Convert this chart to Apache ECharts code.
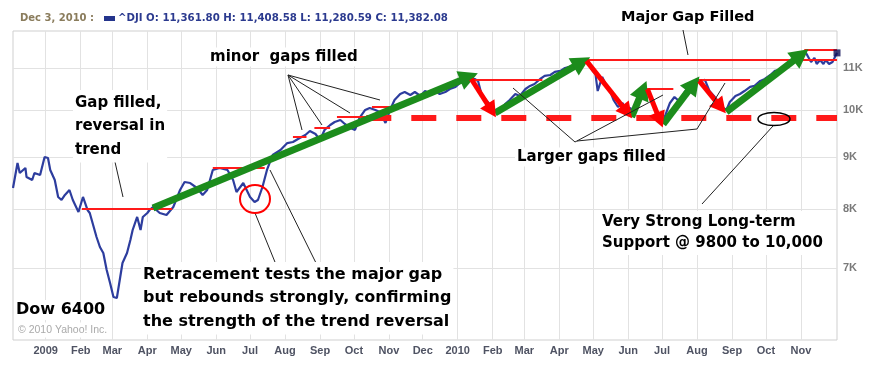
<!DOCTYPE html>
<html><head><meta charset="utf-8">
<script src="https://cdn.jsdelivr.net/npm/echarts@6/dist/echarts.min.js"></script>
<style>html,body{margin:0;padding:0;background:#fff}#c{width:870px;height:368px}</style>
</head><body><div id="c"></div>
<script>
// ---- Dow Jones (^DJI) weekly-ish closes ----
const dates = ['2008-12-03','2008-12-07','2008-12-09','2008-12-14','2008-12-15','2008-12-20','2008-12-22','2008-12-27','2008-12-31',
'2009-01-03','2009-01-05','2009-01-09','2009-01-12','2009-01-15','2009-01-18','2009-01-22','2009-01-25','2009-01-30',
'2009-02-03','2009-02-07','2009-02-09','2009-02-15','2009-02-18','2009-02-21','2009-02-24','2009-02-27',
'2009-03-02','2009-03-05','2009-03-08','2009-03-10','2009-03-14','2009-03-17','2009-03-19','2009-03-23','2009-03-26','2009-03-28',
'2009-04-01','2009-04-03','2009-04-06','2009-04-12','2009-04-18','2009-04-24','2009-04-30',
'2009-05-04','2009-05-09','2009-05-15','2009-05-20','2009-05-24','2009-05-29',
'2009-06-04','2009-06-11','2009-06-16','2009-06-19','2009-06-25',
'2009-07-01','2009-07-05','2009-07-08','2009-07-12','2009-07-16','2009-07-21','2009-07-28',
'2009-08-03','2009-08-08','2009-08-14','2009-08-19','2009-08-23','2009-08-28',
'2009-09-01','2009-09-05','2009-09-10','2009-09-14','2009-09-19','2009-09-23','2009-09-28',
'2009-10-02','2009-10-06','2009-10-11','2009-10-15','2009-10-20','2009-10-24','2009-10-29',
'2009-11-02','2009-11-06','2009-11-11','2009-11-15','2009-11-20','2009-11-24','2009-11-29',
'2009-12-03','2009-12-07','2009-12-12','2009-12-16','2009-12-21','2009-12-25','2009-12-30',
'2010-01-03','2010-01-07','2010-01-12','2010-01-16','2010-01-19','2010-01-22','2010-01-26','2010-01-30',
'2010-02-03','2010-02-07','2010-02-12','2010-02-16','2010-02-21','2010-02-25',
'2010-03-02','2010-03-06','2010-03-10','2010-03-15','2010-03-19','2010-03-24','2010-03-28',
'2010-04-02','2010-04-06','2010-04-10','2010-04-15','2010-04-19','2010-04-24','2010-04-26','2010-04-30',
'2010-05-03','2010-05-05','2010-05-09','2010-05-12','2010-05-16','2010-05-19','2010-05-23','2010-05-27','2010-05-30',
'2010-06-03','2010-06-06','2010-06-10','2010-06-13','2010-06-17','2010-06-20','2010-06-24','2010-06-27',
'2010-07-01','2010-07-04','2010-07-08','2010-07-12','2010-07-17','2010-07-21','2010-07-26','2010-07-30',
'2010-08-04','2010-08-08','2010-08-12','2010-08-16','2010-08-20','2010-08-23','2010-08-27','2010-08-30',
'2010-09-04','2010-09-08','2010-09-12','2010-09-17','2010-09-21','2010-09-26','2010-09-30',
'2010-10-05','2010-10-09','2010-10-13','2010-10-18','2010-10-22','2010-10-27','2010-10-31',
'2010-11-05','2010-11-07','2010-11-10','2010-11-13','2010-11-15','2010-11-18','2010-11-21','2010-11-23','2010-11-26','2010-11-29','2010-12-03'];
const values = [8387,8875,8677,8775,8598,8540,8677,8638,8996,
8976,8736,8540,8219,8163,8256,8349,8163,7945,
8219,7981,7927,7508,7340,7241,6968,6767,
6557,6542,6859,7080,7241,7458,7628,7856,7628,7856,
7927,7981,8035,7927,7891,8035,8349,
8501,8482,8387,8256,8349,8736,
8775,8736,8540,8312,8482,
8219,8127,8163,8406,8736,9036,9139,
9284,9306,9390,9455,9541,9476,
9348,9563,9671,9736,9781,9692,9605,
9563,9826,10005,10049,10005,9959,9714,
10005,10233,10372,10419,10349,10419,10325,
10442,10396,10442,10372,10419,10490,10539,
10634,10658,10707,10730,10683,10372,10233,10118,
9959,9936,10141,10233,10372,10325,
10490,10563,10610,10730,10804,10828,10902,
10928,11000,11026,11076,11125,11177,11202,10950,
10853,10442,10780,10610,10442,10233,10072,10164,10005,
10049,9892,10118,10325,10442,10372,10118,9892,
9714,9892,10164,10302,10186,10419,10563,10634,
10683,10707,10442,10325,10186,10072,10005,10186,
10325,10372,10442,10539,10563,10683,10730,
10828,10928,10950,11051,11100,11202,11330,
11403,11304,11151,11252,11100,11202,11100,11202,11100,11151,11382];

// ---- axis ticks ----
const monthTicks = ['2009-01-01','2009-02-01','2009-03-01','2009-04-01','2009-05-01','2009-06-01','2009-07-01','2009-08-01','2009-09-01','2009-10-01','2009-11-01','2009-12-01',
'2010-01-01','2010-02-01','2010-03-01','2010-04-01','2010-05-01','2010-06-01','2010-07-01','2010-08-01','2010-09-01','2010-10-01','2010-11-01'];
const monthLabels = ['2009','Feb','Mar','Apr','May','Jun','Jul','Aug','Sep','Oct','Nov','Dec','2010','Feb','Mar','Apr','May','Jun','Jul','Aug','Sep','Oct','Nov'];
const yTicks = [7000,8000,9000,10000,11000];
const yTickLabels = ['7K','8K','9K','10K','11K'];

// ---- annotation data (date, value) ----
const greenArrows = [
  [['2009-04-06',8017],['2010-01-11',10780]],
  [['2010-02-03',9936],['2010-04-21',11150]],
  [['2010-06-04',9847],['2010-06-14',10470]],
  [['2010-07-02',9692],['2010-07-29',10610]],
  [['2010-08-27',9959],['2010-11-01',11330]]
];
const redArrows = [
  [['2010-01-13',10730],['2010-01-31',9990]],
  [['2010-04-25',11177],['2010-05-31',9960]],
  [['2010-06-18',10490],['2010-06-29',9780]],
  [['2010-08-03',10683],['2010-08-22',10070]]
];
const gapLines = [
  ['2009-02-02','2009-04-23',8000],
  ['2009-05-29','2009-07-14',8775],
  ['2009-08-08','2009-08-20',9411],
  ['2009-08-27','2009-09-10',9605],
  ['2009-09-16','2009-10-12',9847],
  ['2009-10-17','2009-11-04',10072],
  ['2010-01-12','2010-03-17',10707],
  ['2010-04-13','2010-12-03',11202],
  ['2010-11-04','2010-12-03',11457],
  ['2010-06-14','2010-07-11',10491],
  ['2010-07-30','2010-09-17',10707]
];
const supportLine = ['2009-10-12','2010-12-03',9826];

const header = {date:'Dec 3, 2010 :', text:'^DJI O: 11,361.80 H: 11,408.58 L: 11,280.59 C: 11,382.08'};

function t(s){const p=s.split('-').map(Number);return new Date(p[0],p[1]-1,p[2]).getTime();}
const monthT = monthTicks.map(t);
const seriesData = dates.map((d,i)=>[t(d),values[i]]);

const chart = echarts.init(document.getElementById('c'), null, {renderer:'canvas'});
const FONT = '"DejaVu Sans", sans-serif';
function txt(text,x,y,size,lh,va){
  return {type:'text', z:100, style:{text:text, x:x, y:y, font:'bold '+size+'px '+FONT, fill:'#000',
    backgroundColor:'#fff', padding:[1,2], lineHeight:lh, align:'left', verticalAlign:va||'middle'}};
}
function pl(points,color,w){return {type:'polyline', z:99, shape:{points:points}, style:{stroke:color||'#222', lineWidth:w||1, fill:null}};}

chart.setOption({
  animation:false,
  grid:{left:13,right:33,top:31,bottom:28,show:true,borderColor:'#cfcfcf',borderWidth:1,backgroundColor:'#fff'},
  xAxis:{type:'value',min:t('2008-12-03'),max:t('2010-12-03'),
    axisLine:{show:false},
    axisTick:{show:false,customValues:monthT},
    splitLine:{show:true,lineStyle:{color:'#e2e2e2',width:1}},
    axisLabel:{customValues:monthT,margin:5,color:'#4f5363',fontFamily:'"Liberation Sans", sans-serif',fontWeight:'bold',fontSize:11,
      formatter:function(v){const i=monthT.indexOf(v);return i>=0?monthLabels[i]:'';}}
  },
  yAxis:{type:'log',position:'right',min:5949,max:11959,
    axisLine:{show:false},axisTick:{show:false},axisLabel:{show:false},splitLine:{show:false}},
  series:[
    {name:'grid',type:'line',data:[],silent:true,
      markLine:{silent:true,z:1,symbol:['none','none'],animation:false,
        lineStyle:{color:'#e2e2e2',width:1,type:'solid'},
        label:{show:true,position:'end',distance:6,color:'#7a7a7a',fontFamily:'"Liberation Sans", sans-serif',fontWeight:'bold',fontSize:11,
          formatter:function(p){return yTickLabels[yTicks.indexOf(p.value)];}},
        emphasis:{disabled:true},
        data:yTicks.map(v=>({yAxis:v}))}},
    {name:'^DJI',type:'line',z:3,data:seriesData,showSymbol:false,smooth:false,
      lineStyle:{color:'#2d3d9e',width:2.2},silent:true},
    {name:'last',type:'scatter',z:10,symbol:'rect',symbolSize:7,itemStyle:{color:'#0d0d55'},
      data:[seriesData[seriesData.length-1]],silent:true},
    {name:'gaps',type:'line',data:[],silent:true,z:4,
      markLine:{silent:true,z:4,symbol:['none','none'],label:{show:false},emphasis:{disabled:true},
        lineStyle:{color:'#ff1a1a',width:2,type:'solid'},
        data:gapLines.map(g=>[{coord:[t(g[0]),g[2]]},{coord:[t(g[1]),g[2]]}])}},
    {name:'support',type:'line',data:[],silent:true,z:4,
      markLine:{silent:true,z:4,symbol:['none','none'],label:{show:false},emphasis:{disabled:true},
        lineStyle:{color:'#ff1a1a',width:6,type:[25,20],cap:'butt'},
        data:[[{coord:[t(supportLine[0]),supportLine[2]]},{coord:[t(supportLine[1]),supportLine[2]]}]]}},
    {name:'green',type:'line',data:[],silent:true,z:6,
      markLine:{silent:true,z:6,symbol:['none','triangle'],symbolSize:[20,19],label:{show:false},emphasis:{disabled:true},
        lineStyle:{color:'#1c8c1c',width:7,type:'solid',opacity:1},
        data:greenArrows.map(a=>[{coord:[t(a[0][0]),a[0][1]]},{coord:[t(a[1][0]),a[1][1]]}])}},
    {name:'red',type:'line',data:[],silent:true,z:6,
      markLine:{silent:true,z:6,symbol:['none','triangle'],symbolSize:[17,16],label:{show:false},emphasis:{disabled:true},
        lineStyle:{color:'#ff0000',width:5,type:'solid',opacity:1},
        data:redArrows.map(a=>[{coord:[t(a[0][0]),a[0][1]]},{coord:[t(a[1][0]),a[1][1]]}])}}
  ],
  graphic:[
    {type:'text',z:100,style:{text:header.date,x:20,y:18,verticalAlign:'middle',font:'bold 10px '+FONT,fill:'#8a7c5c'}},
    {type:'rect',z:100,shape:{x:104,y:16,width:11,height:5},style:{fill:'#24348c'}},
    {type:'text',z:100,style:{text:header.text,x:118,y:18,verticalAlign:'middle',font:'bold 10.2px '+FONT,fill:'#2b3a8f'}},
    txt('Major Gap Filled',619,17,14.5,16),
    txt('minor  gaps filled',208,57,15,17),
    txt('Gap filled,\nreversal in\ntrend',73,90,15,23.5,'top'),
    txt('Larger gaps filled',515,157,15,17),
    txt('Very Strong Long-term\nSupport @ 9800 to 10,000',600,211,15,21,'top'),
    txt('Retracement tests the major gap\nbut rebounds strongly, confirming\nthe strength of the trend reversal',141,262,16,23.5,'top'),
    txt('Dow 6400',14,310,16,18),
    {type:'text',z:100,style:{text:'\u00a9 2010 Yahoo! Inc.',x:16,y:330,verticalAlign:'middle',font:'10.5px "Liberation Sans", sans-serif',fill:'#aaaaaa',backgroundColor:'#fff',padding:[2,2]}},
    pl([[115,162],[123,197]]),
    pl([[288,75],[302,130]]),pl([[288,75],[322,125]]),pl([[288,75],[350,113]]),pl([[288,75],[380,100]]),
    pl([[513,88],[575,142]]),pl([[575,142],[663,95]]),pl([[577,141],[697,129],[725,83]]),
    pl([[683,30],[688,55]]),
    pl([[773,126],[702,204]]),
    pl([[255,213],[277,267]]),pl([[270,170],[318,267]]),
    {type:'ellipse',z:99,shape:{cx:774,cy:119,rx:16,ry:6.5},style:{stroke:'#000',lineWidth:1.5,fill:null}},
    {type:'ellipse',z:99,shape:{cx:255,cy:199,rx:15,ry:14},style:{stroke:'#ff0000',lineWidth:2,fill:null}}
  ]
});
</script></body></html>
